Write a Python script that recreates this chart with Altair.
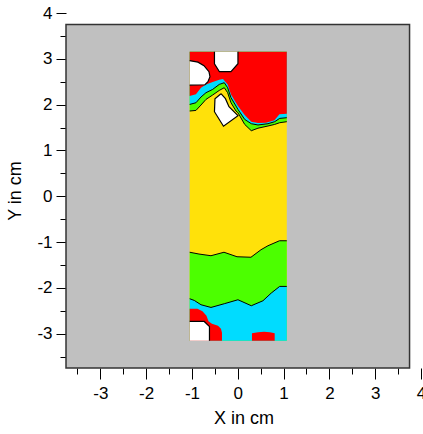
import altair as alt
import pandas as pd

# ---------------- data (cm) ----------------
FRAME = [-3.75, 3.75]          # grey plot frame
DOMAIN = [-3.75, 4.0]          # axis range
MAJOR_TICKS = [-3, -2, -1, 0, 1, 2, 3, 4]
MINOR_TICKS = [-3.5, -2.5, -1.5, -0.5, 0.5, 1.5, 2.5, 3.5]

RECT_X = [-1.05, 1.07]         # measured area
RECT_Y = [-3.155, 3.155]

# bottom contours
BOT_YG_X = [-1.05, -0.847, -0.585, -0.301, -0.017, 0.288, 0.507, 0.659, 0.910, 1.07]
BOT_YG_Y = [-1.223, -1.262, -1.299, -1.223, -1.321, -1.332, -1.168, -1.081, -0.972, -0.972]
BOT_GC_X = [-1.05, -0.950, -0.803, -0.585, -0.295, 0.004, 0.295, 0.550, 0.731, 0.915, 1.07]
BOT_GC_Y = [-2.238, -2.275, -2.369, -2.428, -2.347, -2.260, -2.391, -2.282, -2.114, -1.969, -1.969]
RED_BL_X = [-1.05, -0.880, -0.771, -0.683, -0.640, -0.563, -0.432, -0.367, -0.345, -0.345, -1.05]
RED_BL_Y = [-2.456, -2.456, -2.511, -2.609, -2.729, -2.784, -2.828, -2.893, -2.980, -3.155, -3.155]
RED_BR_X = [0.310, 0.441, 0.572, 0.703, 0.806, 0.806, 0.310]
RED_BR_Y = [-2.991, -2.969, -2.959, -2.969, -2.991, -3.155, -3.155]
WHITE_BL_X = [-1.05, -0.732, -0.618, -0.618]
WHITE_BL_Y = [-2.734, -2.734, -2.843, -3.155]

# top contours
TOP_RC_X = [-1.05, -0.913, -0.803, -0.694, -0.548, -0.404, -0.323, -0.221, -0.148, -0.039,
            0.004, 0.146, 0.295, 0.441, 0.616, 0.801, 0.910, 1.07]
TOP_RC_Y = [2.188, 2.227, 2.369, 2.441, 2.493, 2.544, 2.559, 2.441, 2.223, 2.041,
            1.969, 1.779, 1.627, 1.598, 1.605, 1.659, 1.790, 1.801]
TOP_CG_X = [-1.05, -0.913, -0.803, -0.694, -0.548, -0.404, -0.295, -0.221, -0.148, -0.039,
            0.004, 0.151, 0.295, 0.441, 0.659, 0.806, 0.915, 1.07]
TOP_CG_Y = [2.004, 2.041, 2.166, 2.260, 2.332, 2.441, 2.478, 2.369, 2.151, 1.969,
            1.895, 1.677, 1.583, 1.555, 1.583, 1.627, 1.699, 1.714]
TOP_GY_X = [-1.05, -0.913, -0.803, -0.694, -0.548, -0.404, -0.295, -0.221, -0.148, -0.039,
            0.004, 0.151, 0.295, 0.441, 0.659, 0.806, 0.915, 1.07]
TOP_GY_Y = [1.860, 1.873, 1.991, 2.114, 2.210, 2.310, 2.369, 2.260, 2.041, 1.860,
            1.823, 1.568, 1.430, 1.485, 1.533, 1.568, 1.605, 1.627]
WHITE_TL_X = [-1.05, -0.869, -0.738, -0.629, -0.607, -0.651, -0.716, -1.05]
WHITE_TL_Y = [2.959, 2.926, 2.849, 2.718, 2.609, 2.500, 2.434, 2.424]
WHITE_TC_X = [-0.509, -0.509, -0.400, -0.148, 0.004, 0.004]
WHITE_TC_Y = [3.155, 2.893, 2.718, 2.718, 2.893, 3.155]
ISLAND_X = [-0.367, -0.498, -0.509, -0.312, 0.004, -0.192, -0.269, -0.367]
ISLAND_Y = [2.238, 2.129, 1.845, 1.528, 1.758, 1.954, 2.129, 2.238]

GREY = "#C0C0C0"
RED = "#FF0000"
CYAN = "#00DCFF"
GREEN = "#4CFF00"
YELLOW = "#FFE10A"
WHITE = "#FFFFFF"
FONT = "Liberation Sans"

# ---------------- chart ----------------
sc = alt.Scale(domain=DOMAIN, nice=False, zero=False)


def xe(field="x", axis=None):
    if axis is None:
        return alt.X(f"{field}:Q", scale=sc, axis=None)
    return alt.X(f"{field}:Q", scale=sc, axis=axis)


def ye(field="y", axis=None):
    if axis is None:
        return alt.Y(f"{field}:Q", scale=sc, axis=None)
    return alt.Y(f"{field}:Q", scale=sc, axis=axis)


def poly(xs, ys, fill=None, stroke=None, sw=1.0):
    df = pd.DataFrame({"i": list(range(len(xs))), "x": xs, "y": ys})
    kw = {}
    if fill is not None:
        kw["fill"] = fill
    if stroke is not None:
        kw["stroke"] = stroke
        kw["strokeWidth"] = sw
    else:
        kw["strokeWidth"] = 0
    return alt.Chart(df).mark_line(**kw).encode(x=xe(), y=ye(), order="i:Q")


def band(xs, ys, corner_y, fill):
    # region between a contour line and the top/bottom edge of the measured area
    bx = [RECT_X[0]] + xs + [RECT_X[1]]
    by = [corner_y] + ys + [corner_y]
    return poly(bx, by, fill=fill)


frame_df = pd.DataFrame({"x": [FRAME[0]], "x2": [FRAME[1]], "y": [FRAME[0]], "y2": [FRAME[1]]})
rect_df = pd.DataFrame({"x": [RECT_X[0]], "x2": [RECT_X[1]], "y": [RECT_Y[0]], "y2": [RECT_Y[1]]})

major_x = alt.Axis(values=MAJOR_TICKS, orient="bottom", domain=False, grid=False,
                   tickSize=11, tickColor="black", tickWidth=1,
                   labelFont=FONT, labelFontSize=17, labelColor="black", labelPadding=6,
                   labelFlush=False, labelOverlap=False, labelExpr="'' + datum.value",
                   title="X in cm", titleFont=FONT, titleFontSize=18, titleFontWeight="normal",
                   titleColor="black", titlePadding=8)
major_y = alt.Axis(values=MAJOR_TICKS, orient="left", domain=False, grid=False,
                   tickSize=10, tickColor="black", tickWidth=1,
                   labelFont=FONT, labelFontSize=17, labelColor="black", labelPadding=4,
                   labelFlush=False, labelOverlap=False, labelExpr="'' + datum.value",
                   title="Y in cm", titleFont=FONT, titleFontSize=18, titleFontWeight="normal",
                   titleColor="black", titlePadding=12)
minor_x = alt.Axis(values=MINOR_TICKS, orient="bottom", domain=False, grid=False,
                   tickSize=6, tickColor="black", tickWidth=1, labels=False, title="")
minor_y = alt.Axis(values=MINOR_TICKS, orient="left", domain=False, grid=False,
                   tickSize=6, tickColor="black", tickWidth=1, labels=False, title="")

frame = alt.Chart(frame_df).mark_rect(fill=GREY, stroke="#333333", strokeWidth=1.5).encode(
    x=xe("x", major_x), x2="x2:Q", y=ye("y", major_y), y2="y2:Q")
yellow = alt.Chart(rect_df).mark_rect(fill=YELLOW, strokeWidth=0).encode(
    x=xe("x", minor_x), x2="x2:Q", y=ye("y", minor_y), y2="y2:Q")

layers = [
    frame,
    yellow,
    band(BOT_YG_X, BOT_YG_Y, RECT_Y[0], GREEN),
    band(BOT_GC_X, BOT_GC_Y, RECT_Y[0], CYAN),
    poly(RED_BL_X, RED_BL_Y, fill=RED),
    poly(RED_BR_X, RED_BR_Y, fill=RED),
    poly(WHITE_BL_X + [RECT_X[0]], WHITE_BL_Y + [RECT_Y[0]], fill=WHITE),
    band(TOP_GY_X, TOP_GY_Y, RECT_Y[1], GREEN),
    band(TOP_CG_X, TOP_CG_Y, RECT_Y[1], CYAN),
    band(TOP_RC_X, TOP_RC_Y, RECT_Y[1], RED),
    poly(WHITE_TL_X, WHITE_TL_Y, fill=WHITE),
    poly(WHITE_TC_X, WHITE_TC_Y, fill=WHITE),
    poly(ISLAND_X, ISLAND_Y, fill=WHITE),
    # contour lines
    poly(BOT_YG_X, BOT_YG_Y, stroke="black", sw=1),
    poly(BOT_GC_X, BOT_GC_Y, stroke="black", sw=1),
    poly(TOP_CG_X, TOP_CG_Y, stroke="black", sw=1),
    poly(TOP_GY_X, TOP_GY_Y, stroke="black", sw=1),
    poly(WHITE_BL_X, WHITE_BL_Y, stroke="black", sw=1.2),
    poly(WHITE_TL_X, WHITE_TL_Y, stroke="black", sw=1.2),
    poly(WHITE_TC_X, WHITE_TC_Y, stroke="black", sw=1.2),
    poly(ISLAND_X, ISLAND_Y, stroke="black", sw=1.2),
]

chart = alt.layer(*layers).resolve_axis(x="independent", y="independent").properties(
    width=355, height=355,
    autosize=alt.AutoSizeParams(type="none"),
    padding={"left": 66, "top": 13, "right": 2, "bottom": 66},
    background="white",
).configure_view(stroke="transparent")

chart.save("out.html", embed_options={"renderer": "svg", "actions": False})
